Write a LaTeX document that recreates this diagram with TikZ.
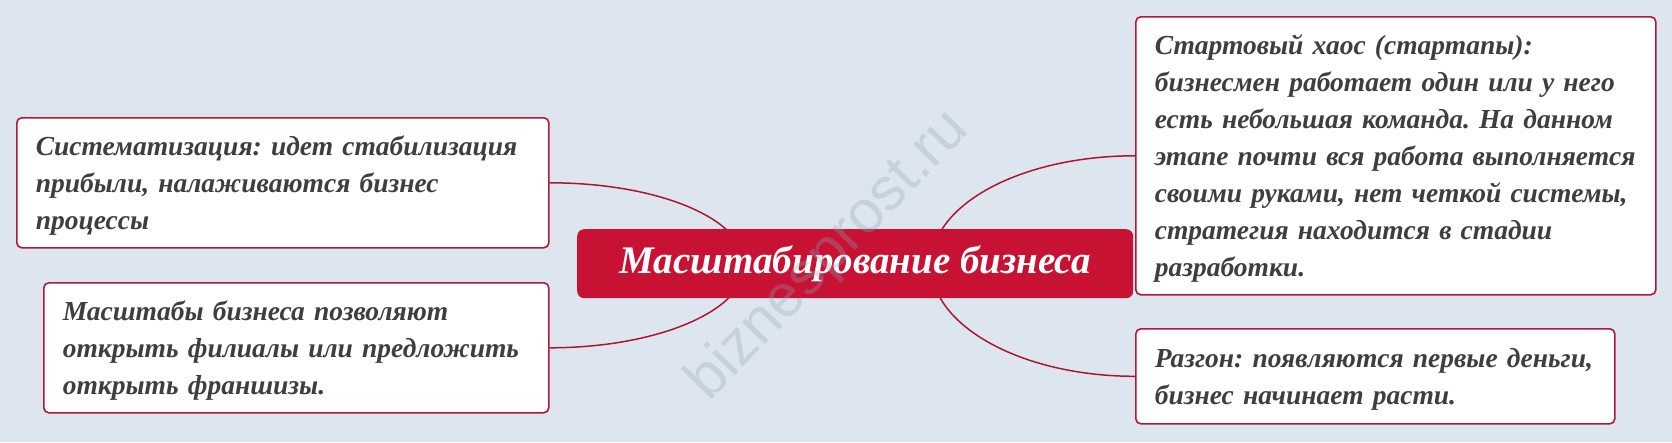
\documentclass[tikz,border=0pt]{standalone}
\usepackage{fontspec}
\setmainfont{Liberation Serif}
\newfontfamily\wmfont{Liberation Sans}
\frenchspacing
\definecolor{bgc}{RGB}{221,230,238}
\definecolor{redc}{RGB}{200,18,52}
\definecolor{edgec}{RGB}{178,24,58}
\definecolor{linec}{RGB}{172,22,52}
\definecolor{txtc}{RGB}{62,62,62}
\definecolor{wmc}{RGB}{140,165,188}
\tikzset{
  leaf/.style={draw=edgec, line width=1.6pt, fill=white, rounded corners=5pt,
    anchor=north west, inner xsep=19pt, inner ysep=0pt, align=left,
    text=txtc, font=\fontsize{27.5}{37}\selectfont\bfseries\itshape},
  hub/.style={fill=redc, rounded corners=7pt, anchor=north west,
    minimum width=556pt, minimum height=69pt, inner sep=0pt,
    text=white, font=\fontsize{39}{44}\selectfont\bfseries\itshape},
  conn/.style={draw=linec, line width=1.5pt}
}
\begin{document}
\begin{tikzpicture}[x=1pt,y=-1pt]
\useasboundingbox (0,0) rectangle (1672,442);
\fill[bgc] (0,0) rectangle (1672,442);
\coordinate (cl) at (745,265);
\coordinate (cr) at (931,265);
\node[leaf, text width=494pt, minimum height=130pt] (A) at (16,117)
  {\strut Систематизация: идет стабилизация\\прибыли, налаживаются бизнес\\процессы};
\node[leaf, text width=467pt, minimum height=130pt] (B) at (43,282)
  {\strut Масштабы бизнеса позволяют\\открыть филиалы или предложить\\открыть франшизы.};
\node[leaf, text width=482pt, minimum height=278pt] (C) at (1135,16)
  {\strut Стартовый хаос (стартапы):\\бизнесмен работает один или у него\\есть небольшая команда. На данном\\этапе почти вся работа выполняется\\своими руками, нет четкой системы,\\стратегия находится в стадии\\разработки.};
\node[leaf, text width=441pt, minimum height=95pt] (D) at (1135,328)
  {\strut Разгон: появляются первые деньги,\\бизнес начинает расти.};
\draw[conn] (A.east) .. controls +(109,0) and +(0,-46) .. (cl);
\draw[conn] (B.east) .. controls +(109,0) and +(0,45) .. (cl);
\draw[conn] (C.west) .. controls +(-113,0) and +(0,-61) .. (cr);
\draw[conn] (D.west) .. controls +(-113,0) and +(0,61) .. (cr);
\node[hub] (M) at (577,229) {Масштабирование бизнеса};
\node[text=wmc, opacity=0.3, rotate=46, font=\wmfont\fontsize{60}{60}\selectfont] (W) at (829,256) {biznesprost.ru};
\end{tikzpicture}
\end{document}
